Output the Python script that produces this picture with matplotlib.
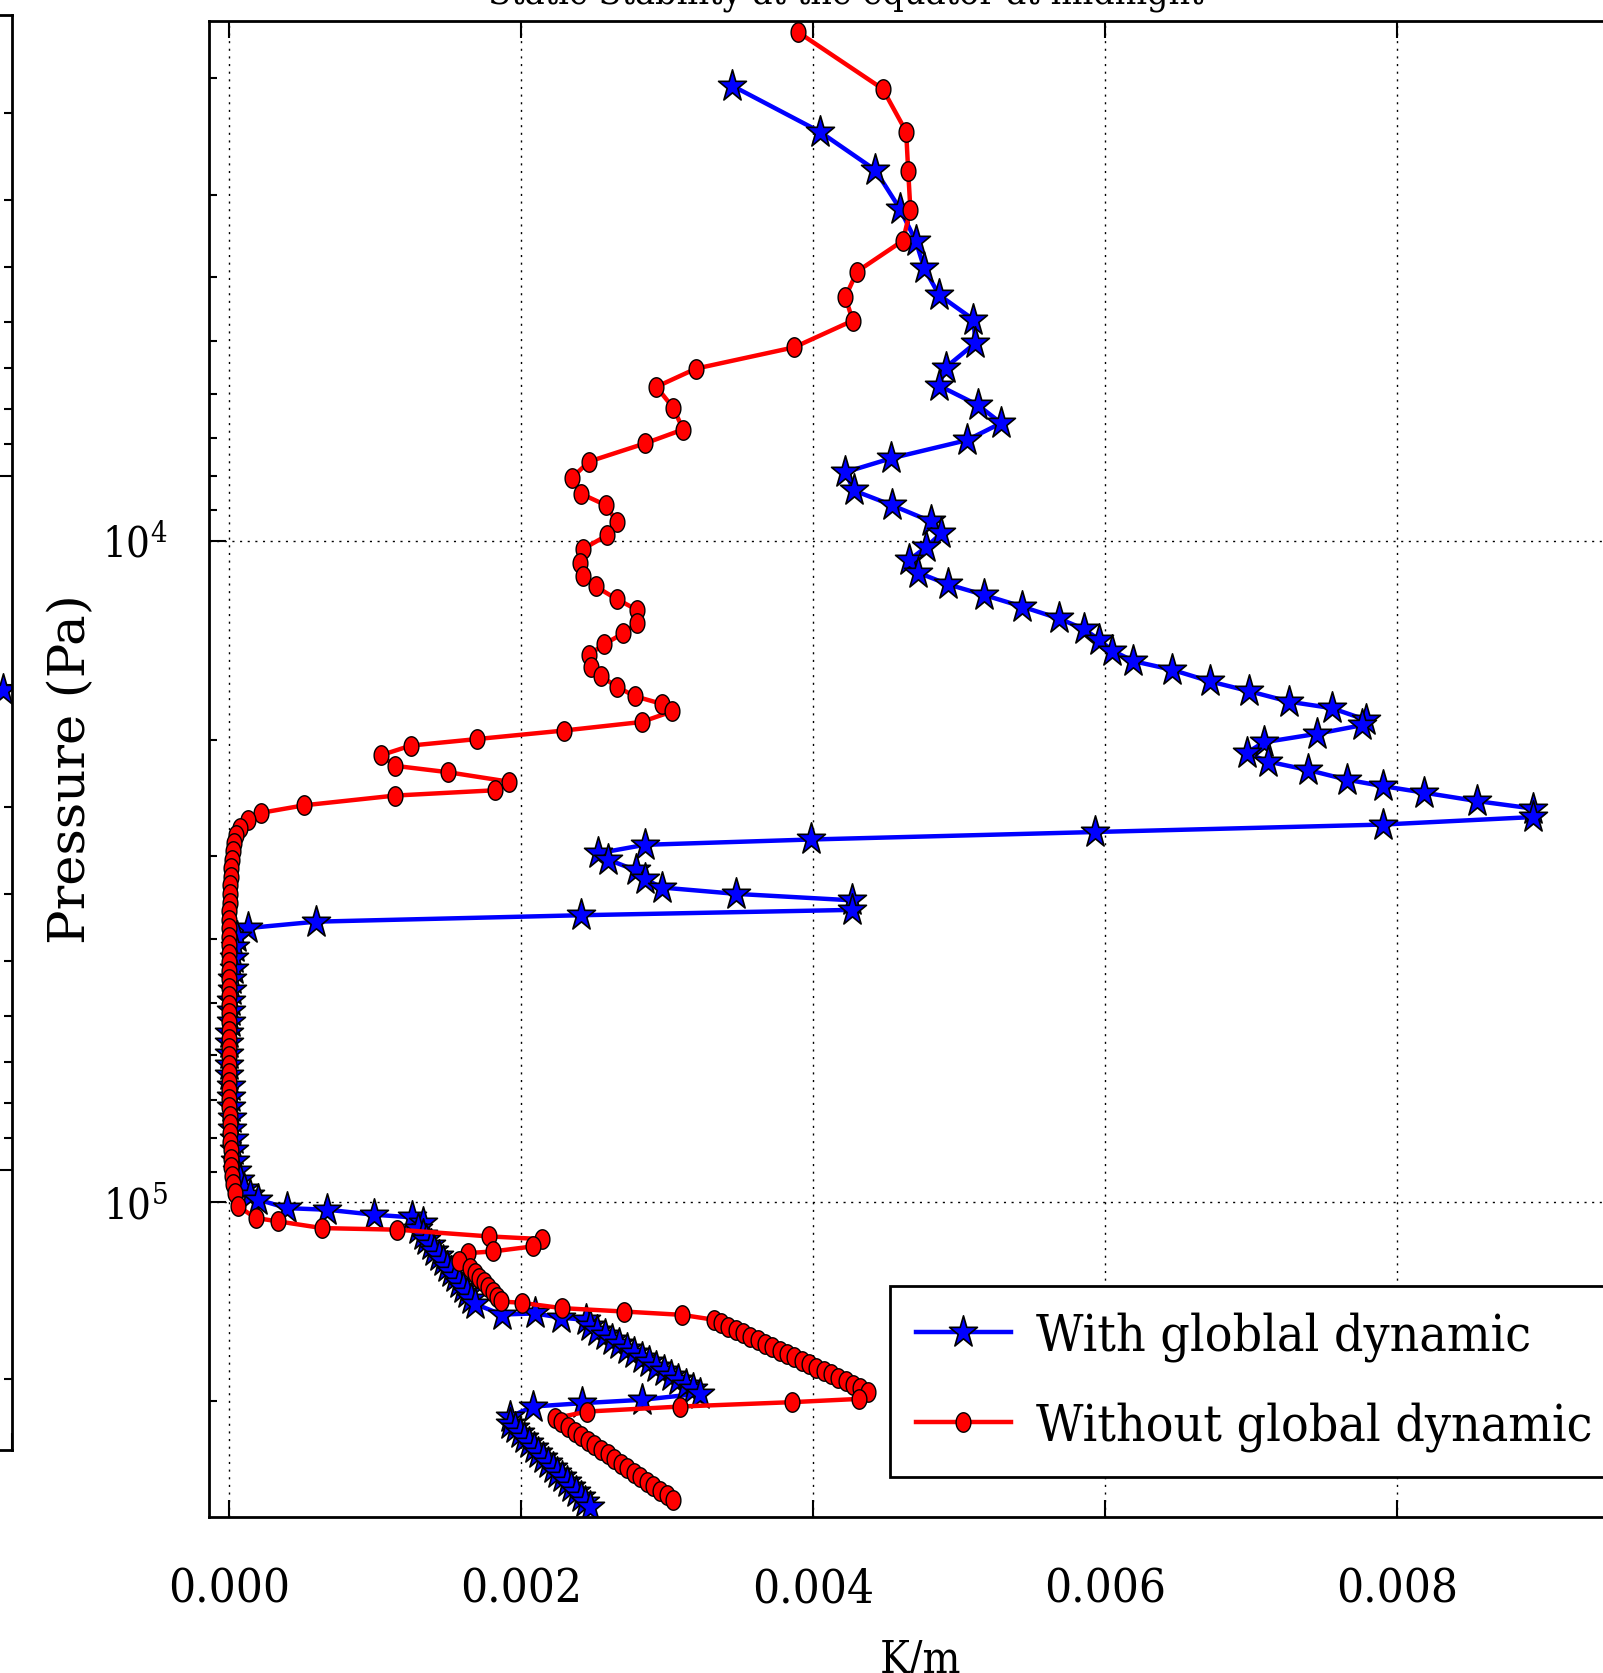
import numpy as np
import matplotlib
matplotlib.use("Agg")
import matplotlib.pyplot as plt
from matplotlib.path import Path
from matplotlib.ticker import FuncFormatter

plt.rcParams['font.family'] = 'DejaVu Serif'
plt.rcParams['font.stretch'] = 'condensed'
plt.rcParams['mathtext.fontset'] = 'dejavuserif'

# Static stability (x in 1e-3 K/m) against pressure (Pa)
# --- with global dynamic (blue stars) ---
blue_p_upper = [2054, 2410, 2754, 3150, 3522, 3879, 4256, 4634, 5029, 5477, 5834, 6239,
                6645, 7052, 7512, 7883, 8400, 8848, 9354, 9743, 10225, 10692, 11178, 11645,
                12085, 12590, 13116, 13612, 14128, 14662, 15216, 15674, 16330, 16885, 17522,
                17919, 18667, 19016, 19590, 20181, 20946, 21577, 22230, 22985, 23505, 24036,
                24760, 25410, 26175, 26866, 27573, 28300, 28830, 29698, 30368, 31514, 32470,
                33448, 34198, 34970, 36154, 36835, 37670, 38520]
blue_x_upper = [3.445, 4.045, 4.426, 4.594, 4.703, 4.762, 4.864, 5.099, 5.113, 4.908, 4.864, 5.128,
                5.289, 5.055, 4.535, 4.221, 4.279, 4.543, 4.806, 4.879, 4.777, 4.660, 4.718, 4.923,
                5.172, 5.435, 5.684, 5.859, 5.962, 6.050, 6.196, 6.459, 6.722, 6.986, 7.264,
                7.556, 7.790, 7.761, 7.454, 7.088, 6.971, 7.118, 7.395, 7.659, 7.907, 8.185,
                8.551, 8.932, 8.932, 7.907, 5.932, 3.987, 2.846, 2.524, 2.597, 2.787, 2.846,
                2.963, 3.475, 4.265, 4.265, 2.407, 0.593, 0.124]
blue_p_mid = [39690, 41190, 42740, 44360, 46030, 47780, 49590, 51460, 53420, 55440, 57530, 59720,
              61980, 64320, 66760, 69280, 71900, 74630, 77450, 80370, 83420, 86570, 89840, 92560,
              95350, 97500]
blue_x_mid = [0.05, 0.04, 0.03, 0.03, 0.02, 0.02, 0.01, 0.01, 0.01, 0.0, 0.0, 0.0,
              0.0, 0.0, 0.01, 0.01, 0.01, 0.02, 0.02, 0.03, 0.03, 0.04, 0.05, 0.07,
              0.10, 0.14]
blue_p_low = [99100, 102070, 102640, 104440, 105400, 107530,
              109830, 111900, 113990, 116130, 118310, 120500, 122770, 125080, 127410, 129810,
              132250, 134710, 137250, 139830, 142430,
              147800, 147250, 149460, 150570,
              153960, 156400, 158870, 161360, 163900, 166490, 169120, 171750, 174460, 177220,
              180020, 182810, 185710, 188640, 191620, 194600,
              198860, 201230, 203600, 210800,
              215990, 219700, 223480, 227330, 231230, 235210, 239250, 243360, 247540, 251800,
              256120, 260530, 265000, 269610, 274240, 278960, 283750, 288630]
blue_x_low = [0.197, 0.395, 0.671, 0.992, 1.252, 1.328,
              1.295, 1.323, 1.350, 1.378, 1.405, 1.433, 1.461, 1.488, 1.516, 1.543,
              1.571, 1.599, 1.626, 1.654, 1.682,
              1.865, 2.092, 2.275, 2.443,
              2.472, 2.522, 2.573, 2.623, 2.673, 2.723, 2.774, 2.824, 2.874, 2.924,
              2.975, 3.025, 3.075, 3.126, 3.176, 3.226,
              2.828, 2.415, 2.079, 1.926,
              1.924, 1.956, 1.988, 2.021, 2.053, 2.085, 2.117, 2.150, 2.182, 2.214,
              2.246, 2.279, 2.311, 2.343, 2.375, 2.408, 2.440, 2.472]

# --- without global dynamic (red circles) ---
red_p_upper = [1706, 2077, 2410, 2766, 3162, 3522, 3922, 4287, 4652, 5105, 5498, 5857, 6308,
               6795, 7134, 7596, 8032, 8492, 8848, 9388, 9816, 10302, 10811, 11303, 11732,
               12263, 12731, 13310, 13815, 14339, 14879, 15501, 16028, 16634, 17197, 17652,
               18116, 18803, 19372, 19957, 20408, 21103, 21901, 22396, 23147, 23844, 24290,
               25125, 25786, 26467, 27164, 27882]
red_x_upper = [3.899, 4.477, 4.638, 4.652, 4.667, 4.616, 4.301, 4.221, 4.272, 3.870, 3.197, 2.926,
               3.043, 3.109, 2.846, 2.465, 2.348, 2.407, 2.582, 2.655, 2.590, 2.421, 2.399,
               2.421, 2.509, 2.655, 2.794, 2.794, 2.699, 2.568, 2.465, 2.480, 2.546, 2.655,
               2.780, 2.963, 3.036, 2.824, 2.290, 1.697, 1.244, 1.039, 1.134, 1.500, 1.917,
               1.821, 1.134, 0.512, 0.219, 0.124, 0.073, 0.044]
red_p_mid = [28620, 29480, 30370, 31290, 32230, 33200, 34200, 35240, 36300, 37390, 38520, 39680,
             40880, 42110, 43380, 44690, 46040, 47430, 48860, 50330, 51850, 53410, 55020, 56680,
             58400, 60160, 61970, 63830, 65760, 67740, 69780, 71880, 74060, 76290, 78590, 80960,
             83400, 85910, 88510, 91170, 93910, 96740]
red_x_mid = [0.030, 0.022, 0.016, 0.012, 0.008, 0.005, 0.003, 0.001, 0.000, -0.002, -0.003, -0.004,
             -0.004, -0.005, -0.005, -0.005, -0.006, -0.006, -0.006, -0.006, -0.006, -0.006,
             -0.005, -0.005, -0.005, -0.004, -0.004, -0.003, -0.003, -0.002, -0.001, 0.000,
             0.001, 0.002, 0.003, 0.005, 0.007, 0.010, 0.013, 0.018, 0.026, 0.038]
red_p_low = [101460, 105650, 106880, 109410, 110020, 112620, 113680, 116610, 118690, 119350, 122850,
             125810, 127900, 130020, 132190, 134400, 136620, 138900, 141250,
             141900, 144540, 146280, 147980,
             150500, 152310, 154110, 155970, 157850, 159720, 161650, 163600, 165530, 167530,
             169550, 171550, 173620, 175710, 177790, 179930, 182100, 184250, 186470, 188720,
             190950, 193250,
             198260, 200510, 203600, 207160, 211990,
             215190, 218640, 222150, 225700, 229270, 232950, 236590, 240460, 244310, 248230,
             252200, 256240, 260350, 264510, 268690, 272990, 277370, 281800]
red_x_low = [0.059, 0.181, 0.334, 0.634, 1.151, 1.778, 2.140, 2.079, 1.803, 1.635, 1.573,
             1.650, 1.681, 1.711, 1.742, 1.772, 1.803, 1.834, 1.864,
             2.002, 2.277, 2.706, 3.103,
             3.318, 3.368, 3.419, 3.469, 3.519, 3.570, 3.620, 3.670, 3.720, 3.771,
             3.821, 3.871, 3.921, 3.972, 4.022, 4.072, 4.123, 4.173, 4.223, 4.273,
             4.324, 4.374,
             4.312, 3.853, 3.088, 2.451, 2.231,
             2.275, 2.320, 2.365, 2.410, 2.455, 2.501, 2.546, 2.591, 2.636, 2.681,
             2.726, 2.771, 2.816, 2.861, 2.906, 2.952, 2.997, 3.042]

# neighbouring panel (only its right edge is visible)
left_x = [0.97]
left_p = [20340]

blue_p = np.array(blue_p_upper + blue_p_mid + blue_p_low)
blue_x = np.array(blue_x_upper + blue_x_mid + blue_x_low) * 1e-3
red_p = np.array(red_p_upper + red_p_mid + red_p_low)
red_x = np.array(red_x_upper + red_x_mid + red_x_low) * 1e-3

# markers a bit taller than wide, like the stretched original
t = np.linspace(0, 2 * np.pi, 60)
oval = Path(np.column_stack([0.76 * np.cos(t), np.sin(t)]))
st = Path.unit_regular_star(5, 0.381966)
star = Path(st.vertices * [0.88, 1.0], st.codes)

W, H = 1603, 1673
fig = plt.figure(figsize=(W / 100, H / 100), dpi=100)

# main panel
ax = fig.add_axes([209 / W, 1 - 1517 / H, (1632 - 209) / W, (1517 - 21) / H])
ax.plot(blue_x, blue_p, color='b', lw=3.2, marker=star, ms=24, mec='k', mew=1.2,
        label='With globlal dynamic')
ax.plot(red_x, red_p, color='r', lw=3.2, marker=oval, ms=14, mec='k', mew=1.0,
        label='Without global dynamic')
ax.set_yscale('log')
ax.set_ylim(2.99e5, 1640)
ax.set_xlim(-0.0001405, 0.009613)
ax.set_xticks([0.0, 0.002, 0.004, 0.006, 0.008])
ax.xaxis.set_major_formatter(FuncFormatter(lambda v, pos: '%.3f' % v))
ax.grid(True, which='major', color='k', linestyle=(0, (1.5, 4)), lw=1.0)
ax.tick_params(which='both', direction='in', top=True, right=True, width=1.5)
ax.tick_params(which='major', length=12)
ax.tick_params(which='minor', length=6)
ax.tick_params(axis='x', labelsize=34, pad=36)
ax.tick_params(axis='y', labelsize=30, pad=30)
for s in ax.spines.values():
    s.set_linewidth(2)

ax.set_xlabel('K/m', fontsize=32, labelpad=19)
ax.set_ylabel('Pressure (Pa)', fontsize=37, fontstretch='normal', labelpad=4)

leg = ax.legend(loc='upper left', bbox_to_anchor=(890 / W, 1 - 1286 / H),
                bbox_transform=fig.transFigure, borderaxespad=0, numpoints=1,
                fontsize=37, handlelength=1.85, handletextpad=0.5, labelspacing=0.78,
                borderpad=0.5, fancybox=False, framealpha=1, edgecolor='k')
leg.get_frame().set_linewidth(2)

fig.text(846 / W, 1 - 3 / H, 'Static Stability at the equator at midnight',
         ha='center', va='baseline', fontsize=27)

# neighbouring panel on the left, cut by the figure edge
axl = fig.add_axes([-300 / W, 1 - 1450 / H, 312 / W, (1450 - 15) / H])
axl.plot(left_x, left_p, color='b', lw=3, marker=star, ms=24, mec='k', mew=1.2)
axl.set_yscale('log')
axl.set_ylim(253200, 2167)
axl.set_xlim(0, 1)
axl.tick_params(which='both', direction='in', right=True, width=1.5,
                labelleft=False, labelbottom=False)
axl.tick_params(which='major', length=12)
axl.tick_params(which='minor', length=6)
for s in axl.spines.values():
    s.set_linewidth(2)

fig.savefig('out.png', dpi=100)
